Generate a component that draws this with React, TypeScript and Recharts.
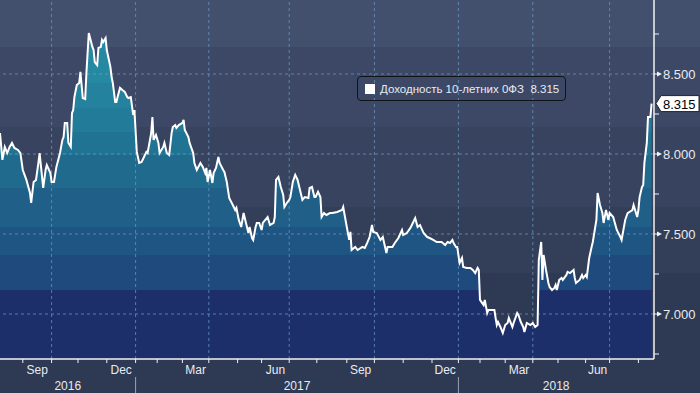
import React from "react";
import {
  ComposedChart,
  Area,
  Line,
  XAxis,
  YAxis,
  ReferenceLine,
  Legend,
} from "recharts";

// Trading-session index (x) and yield values
const sessions = [
  0, 2, 4, 6, 8, 10, 12, 15, 17, 19, 22, 25, 26, 28, 30, 32, 33, 36, 38, 39,
  42, 43, 45, 47, 50, 52, 53, 54, 56, 57, 59, 60, 61, 62, 64, 66, 67, 69, 71, 72,
  74, 77, 78, 79, 81, 82, 84, 85, 86, 88, 89, 92, 93, 94, 96, 97, 98, 100, 102, 104,
  106, 107, 109, 111, 112, 114, 116, 118, 120, 122, 123, 126, 127, 128, 130, 132, 133, 136, 137, 139,
  141, 143, 144, 146, 147, 149, 152, 153, 154, 157, 158, 161, 162, 164, 167, 169, 171, 172, 173, 175,
  177, 178, 180, 182, 183, 186, 187, 189, 191, 194, 196, 197, 199, 201, 203, 205, 207, 208, 210, 211,
  213, 214, 216, 218, 219, 223, 225, 228, 229, 230, 232, 234, 236, 237, 239, 241, 242, 244, 246, 248,
  250, 252, 254, 257, 258, 260, 262, 263, 265, 267, 268, 270, 272, 275, 277, 281, 285, 286, 289, 291,
  292, 293, 296, 298, 302, 304, 306, 308, 310, 311, 314, 317, 319, 322, 323, 327, 329, 332, 335, 336,
  339, 342, 344, 346, 348, 350, 353, 356, 358, 361, 364, 368, 371, 373, 375, 377, 378, 380, 381, 383,
  385, 386, 389, 392, 394, 396, 398, 399, 400, 403, 404, 406, 407, 410, 412, 413, 414, 415, 417, 419,
  421, 423, 424, 427, 428, 431, 432, 434, 436, 437, 439, 442, 444, 446, 448, 449, 451, 452, 453, 455,
  457, 458, 460, 462, 463, 464, 466, 468, 469, 472, 473, 475, 478, 479, 480, 483, 485, 486, 488, 489,
  491, 493, 494, 497, 498, 500, 502, 503, 505, 507, 508, 511, 514, 517, 518, 521, 523, 527, 528, 531,
  532, 533, 535, 536, 537, 539, 540, 542, 543,
];

const yields = [
  8.131, 7.963, 8.044, 8.006, 8.044, 8.069, 8.038, 8.025, 8.006, 7.9, 7.838, 7.756, 7.694, 7.825, 7.838, 7.944, 8.006, 7.788, 7.9, 7.931,
  7.881, 7.825, 7.825, 7.919, 8.006, 8.088, 8.106, 8.194, 8.194, 8.069, 8.044, 8.256, 8.275, 8.356, 8.431, 8.444, 8.513, 8.35, 8.344, 8.506,
  8.756, 8.669, 8.65, 8.575, 8.556, 8.663, 8.669, 8.713, 8.7, 8.725, 8.65, 8.544, 8.481, 8.444, 8.325, 8.325, 8.356, 8.413, 8.4, 8.388,
  8.356, 8.35, 8.356, 8.244, 8.275, 8.013, 7.944, 7.95, 7.981, 8.013, 8.006, 8.131, 8.231, 8.088, 8.119, 8.069, 8.006, 8.044, 8.069, 8.006,
  7.994, 8.131, 8.169, 8.181, 8.163, 8.181, 8.194, 8.213, 8.15, 8.106, 8.069, 8.006, 7.944, 7.9, 7.944, 7.919, 7.881, 7.913, 7.825, 7.9,
  7.819, 7.881, 7.913, 7.981, 7.944, 7.9, 7.888, 7.825, 7.725, 7.681, 7.65, 7.663, 7.588, 7.544, 7.631, 7.569, 7.506, 7.544, 7.475, 7.463,
  7.544, 7.569, 7.569, 7.525, 7.569, 7.606, 7.556, 7.569, 7.606, 7.838, 7.856, 7.794, 7.744, 7.669, 7.694, 7.713, 7.731, 7.825, 7.869, 7.838,
  7.775, 7.713, 7.731, 7.725, 7.788, 7.794, 7.731, 7.731, 7.763, 7.731, 7.606, 7.631, 7.619, 7.631, 7.631, 7.638, 7.65, 7.669, 7.544, 7.463,
  7.513, 7.4, 7.419, 7.4, 7.419, 7.413, 7.444, 7.481, 7.556, 7.513, 7.506, 7.463, 7.481, 7.381, 7.419, 7.419, 7.444, 7.475, 7.525, 7.494,
  7.506, 7.538, 7.569, 7.6, 7.544, 7.556, 7.506, 7.481, 7.475, 7.463, 7.45, 7.45, 7.431, 7.45, 7.444, 7.463, 7.444, 7.419, 7.419, 7.319,
  7.35, 7.294, 7.288, 7.288, 7.275, 7.256, 7.288, 7.275, 7.088, 7.056, 7.088, 7.006, 7.025, 7.025, 7.025, 6.975, 6.931, 6.95, 6.919, 6.881,
  6.931, 6.944, 6.975, 6.919, 6.944, 7.006, 6.994, 6.95, 6.919, 6.888, 6.944, 6.931, 6.944, 6.919, 6.931, 7.338, 7.45, 7.213, 7.369, 7.275,
  7.194, 7.169, 7.15, 7.163, 7.181, 7.15, 7.213, 7.225, 7.213, 7.244, 7.263, 7.256, 7.275, 7.225, 7.194, 7.213, 7.244, 7.225, 7.244, 7.231,
  7.35, 7.419, 7.45, 7.588, 7.756, 7.681, 7.631, 7.569, 7.65, 7.588, 7.631, 7.606, 7.525, 7.481, 7.463, 7.588, 7.631, 7.65, 7.681, 7.606,
  7.65, 7.731, 7.794, 7.806, 7.944, 8.069, 8.231, 8.231, 8.315,
];

// Month start positions (session index), Sep 2016 .. Aug 2018
const monthStarts = [19, 43, 65, 89, 113, 131, 152, 174, 198, 218, 241, 264, 289, 312, 336, 360, 382, 400, 421, 444, 465, 488, 508, 532];
const monthNames = ["Sep", "Oct", "Nov", "Dec", "Jan", "Feb", "Mar", "Apr", "May", "Jun", "Jul", "Aug", "Sep", "Oct", "Nov", "Dec", "Jan", "Feb", "Mar", "Apr", "May", "Jun", "Jul", "Aug"];
const labeledMonths = ["Sep", "Dec", "Mar", "Jun"];
const quarterStarts = ["Oct", "Jan", "Apr", "Jul"];

const years = ["2016", "2017", "2018"];
const yearStarts = [113, 382];
const xDomain: [number, number] = [0, 545];

const yMajorTicks = [7.0, 7.5, 8.0, 8.5];
const yMinorTicks = [6.75, 7.25, 7.75, 8.25, 8.75];
const yDomain: [number, number] = [6.71875, 8.9625];

const seriesName = "Доходность 10-летних 0ФЗ";
const lastValue = yields[yields.length - 1];

const data = sessions.map((s, i) => ({ s, v: yields[i] }));

// month label positions = middle of the labeled months
const monthLabelPos: { pos: number; name: string }[] = [];
monthNames.forEach((n, i) => {
  if (labeledMonths.includes(n) && i + 1 < monthStarts.length) {
    monthLabelPos.push({ pos: (monthStarts[i] + monthStarts[i + 1]) / 2, name: n });
  }
});
const gridX = monthStarts.filter((_, i) => quarterStarts.includes(monthNames[i]));

const yearBounds = [xDomain[0], ...yearStarts, xDomain[1]];
const yearLabelPos = years.map((y, i) => ({ pos: (yearBounds[i] + yearBounds[i + 1]) / 2, name: y }));

const mainXTicks = [...monthStarts, ...monthLabelPos.map((m) => m.pos)];
const yearXTicks = [...yearStarts, ...yearLabelPos.map((m) => m.pos)];

const TEXT = "#e8ebf2";
const FONT = "'Liberation Sans', Arial, sans-serif";
const GRID = "#6f9cc8";

const MonthTick = (props: any) => {
  const { x, y, payload } = props;
  const v = payload.value;
  if (monthStarts.includes(v)) {
    return <line x1={x} x2={x} y1={y} y2={y + 4} stroke="#f2f2f2" strokeWidth={1} />;
  }
  const m = monthLabelPos.find((p) => p.pos === v);
  return (
    <text x={x} y={y + 15} textAnchor="middle" fill={TEXT} fontSize={12} fontFamily={FONT}>
      {m ? m.name : ""}
    </text>
  );
};

const YearTick = (props: any) => {
  const { x, y, payload } = props;
  const v = payload.value;
  if (yearStarts.includes(v)) {
    return <line x1={x} x2={x} y1={y + 1} y2={y + 17} stroke="#9aa3b5" strokeWidth={1} />;
  }
  const m = yearLabelPos.find((p) => p.pos === v);
  return (
    <text x={x} y={y + 14} textAnchor="middle" fill={TEXT} fontSize={12} fontFamily={FONT}>
      {m ? m.name : ""}
    </text>
  );
};

const YTick = (props: any) => {
  const { x, y, payload } = props;
  const v = payload.value as number;
  if (v === lastValue) {
    return (
      <g>
        <polygon
          points={`${x + 2},${y} ${x + 7},${y - 8} ${x + 45},${y - 8} ${x + 45},${y + 8} ${x + 7},${y + 8}`}
          fill="#ffffff"
          stroke="#222"
          strokeWidth={1}
        />
        <text x={x + 9} y={y + 5} fill="#000" fontSize={13} fontFamily={FONT}>
          {v.toFixed(3)}
        </text>
      </g>
    );
  }
  if (yMajorTicks.includes(v)) {
    return (
      <g>
        <line x1={x} x2={x + 4} y1={y} y2={y} stroke="#f2f2f2" strokeWidth={1} />
        <polygon points={`${x + 3},${y - 2.5} ${x + 8},${y} ${x + 3},${y + 2.5}`} fill="#f2f2f2" />
        <text x={x + 9} y={y + 5} fill={TEXT} fontSize={13} fontFamily={FONT}>
          {v.toFixed(3)}
        </text>
      </g>
    );
  }
  return <line x1={x} x2={x + 5} y1={y} y2={y} stroke="#f2f2f2" strokeWidth={1} />;
};

// fill bands (styling)
const PLOT_H = 359;
const fillBands: [number, number, string][] = [
  [0, 83, "#2689a2"],
  [83, 108, "#24829e"],
  [108, 132, "#227b99"],
  [132, 155, "#217393"],
  [155, 188, "#206a8e"],
  [188, 227, "#1f5f88"],
  [227, 255, "#1e5583"],
  [255, 290, "#1e4a7d"],
  [290, 359, "#1c2f6b"],
];

const LegendBox = () => (
  <div
    style={{
      border: "1px solid #101418",
      borderRadius: 4,
      padding: "0 6px 0 7px",
      height: 25,
      display: "flex",
      alignItems: "center",
      fontFamily: FONT,
      fontSize: 11.5,
      color: TEXT,
      whiteSpace: "pre",
      boxSizing: "border-box",
    }}
  >
    <span style={{ width: 10, height: 10, background: "#fff", display: "inline-block", marginRight: 5 }} />
    <span>{`${seriesName}  ${lastValue.toFixed(3)}`}</span>
  </div>
);

export default function App() {
  return (
    <div
      style={{
        width: 700,
        height: 393,
        position: "relative",
        background:
          "linear-gradient(to bottom, #424f6d 0px, #424f6d 47px, #3c4865 47px, #3c4865 127px, #38435f 127px, #38435f 207px, #333e59 207px, #333e59 273px, #2e3953 273px, #2e3953 393px)",
      }}
    >
      <style>{`body{margin:0;}`}</style>
      <ComposedChart width={700} height={393} data={data} margin={{ top: 0, right: 0, left: 0, bottom: 0 }}>
        <defs>
          <linearGradient id="fillGrad" gradientUnits="userSpaceOnUse" x1={0} y1={0} x2={0} y2={PLOT_H}>
            {fillBands.flatMap(([a, b, c], i) => [
              <stop key={`a${i}`} offset={a / PLOT_H} stopColor={c} />,
              <stop key={`b${i}`} offset={b / PLOT_H} stopColor={c} />,
            ])}
          </linearGradient>
        </defs>
        <XAxis
          dataKey="s"
          type="number"
          domain={xDomain}
          allowDataOverflow
          ticks={mainXTicks}
          interval={0}
          tick={<MonthTick />}
          tickLine={false}
          tickSize={0}
          tickMargin={0}
          axisLine={{ stroke: "#f2f2f2", strokeWidth: 1.5 }}
          height={17}
        />
        <XAxis
          xAxisId="yr"
          dataKey="s"
          type="number"
          domain={xDomain}
          allowDataOverflow
          ticks={yearXTicks}
          interval={0}
          tick={<YearTick />}
          tickLine={false}
          tickSize={0}
          tickMargin={0}
          axisLine={false}
          height={17}
        />
        <YAxis
          orientation="right"
          type="number"
          domain={yDomain}
          allowDataOverflow
          ticks={[...yMinorTicks, ...yMajorTicks, lastValue]}
          interval={0}
          tick={<YTick />}
          tickLine={false}
          tickSize={0}
          tickMargin={0}
          axisLine={{ stroke: "#f2f2f2", strokeWidth: 1.5 }}
          width={46}
        />
        <Area
          dataKey="v"
          type="linear"
          fill="url(#fillGrad)"
          fillOpacity={1}
          stroke="none"
          isAnimationActive={false}
          dot={false}
          activeDot={false}
        />
        {yMajorTicks.map((t) => (
          <ReferenceLine
            key={`h${t}`}
            y={t}
            stroke={GRID}
            strokeOpacity={0.7}
            strokeWidth={1}
            strokeDasharray="3 3"
            zIndex={350}
          />
        ))}
        {gridX.map((t) => (
          <ReferenceLine
            key={`v${t}`}
            x={t}
            stroke={GRID}
            strokeOpacity={0.7}
            strokeWidth={1}
            strokeDasharray="3 3"
            zIndex={350}
          />
        ))}
        <Line
          dataKey="v"
          type="linear"
          stroke="#ffffff"
          strokeWidth={2}
          dot={false}
          activeDot={false}
          isAnimationActive={false}
        />
        <Legend
          layout="horizontal"
          verticalAlign="middle"
          align="center"
          content={<LegendBox />}
          wrapperStyle={{ position: "absolute", left: 357, top: 76, width: "auto", height: "auto" }}
        />
      </ComposedChart>
    </div>
  );
}
